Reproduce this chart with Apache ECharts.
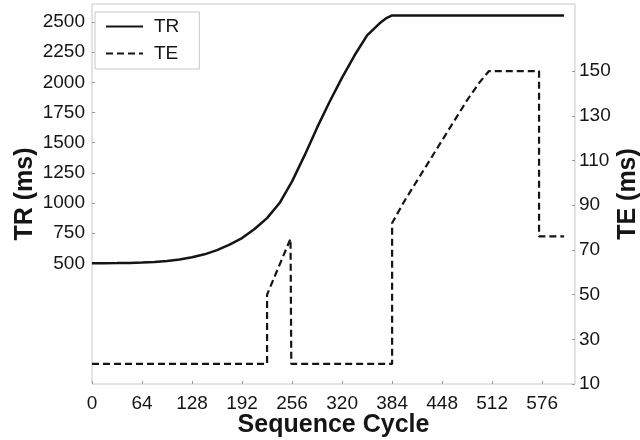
<!DOCTYPE html>
<html>
<head>
<meta charset="utf-8">
<script src="https://cdn.jsdelivr.net/npm/echarts@6/dist/echarts.min.js"></script>
<style>
html, body { margin: 0; padding: 0; background: #fff; }
#chart { width: 640px; height: 440px; }
</style>
</head>
<body>
<div id="chart"></div>
<script>
// 序列周期 (x) 与 TR / TE 取值
const trCycles = [0, 16, 32, 48, 64, 80, 96, 112, 128, 144, 160, 176, 192, 208, 224, 240, 256, 272, 288, 304, 320, 336, 352, 368, 376, 384, 604];
const trValues = [500, 501, 502, 504, 507, 512, 520, 532, 550, 575, 610, 655, 710, 785, 875, 1000, 1180, 1395, 1625, 1840, 2040, 2225, 2390, 2490, 2530, 2555, 2555];

const teCycles = [0, 224, 224, 254, 255, 384, 384, 400, 416, 448, 480, 496, 508, 572, 572, 604];
const teValues = [19, 19, 50, 75, 19, 19, 82, 92, 101, 119, 137, 145, 150, 150, 76, 76];

// 刻度
const xTicks = [0, 64, 128, 192, 256, 320, 384, 448, 512, 576];
const trTicks = [500, 750, 1000, 1250, 1500, 1750, 2000, 2250, 2500];
const teTicks = [10, 30, 50, 70, 90, 110, 130, 150];

const pairs = (xs, ys) => xs.map((x, i) => [x, ys[i]]);

const font = 'Liberation Sans, Arial, sans-serif';
const ink = '#151515';
const frame = '#c8c8c8';

let chart = echarts.init(document.getElementById('chart'));
chart.setOption({
    backgroundColor: '#fff',
    animation: false,
    grid: {
        left: 92, right: 65, top: 4, bottom: 56,
        outerBoundsMode: 'none',
        containLabel: false,
        show: true, borderColor: frame, borderWidth: 1
    },
    legend: {
        left: 95, top: 12,
        orient: 'vertical',
        itemWidth: 37, itemHeight: 14, itemGap: 8,
        padding: [5, 20, 6, 10],
        borderColor: frame, borderWidth: 1,
        itemStyle: { color: 'transparent', borderWidth: 0, opacity: 0 },
        textStyle: { fontFamily: font, fontSize: 19, color: ink, padding: [0, 0, 0, 6] },
        data: ['TR', 'TE']
    },
    xAxis: {
        type: 'value',
        min: 0, max: 618, interval: 64,
        name: 'Sequence Cycle',
        nameLocation: 'middle', nameGap: 29, nameMoveOverlap: false,
        nameTextStyle: { fontFamily: font, fontSize: 25, fontWeight: 'bold', color: ink },
        axisLine: { show: false, onZero: false },
        axisTick: { show: true, inside: true, length: 3, lineStyle: { color: '#999' }, customValues: xTicks },
        axisLabel: { fontFamily: font, fontSize: 19, color: ink, margin: 10, customValues: xTicks },
        splitLine: { show: false }
    },
    yAxis: [
        {
            type: 'value',
            position: 'left',
            min: -500, max: 2650, interval: 250,
            name: 'TR (ms)',
            nameLocation: 'middle', nameGap: 54, nameRotate: 90, nameMoveOverlap: false,
            nameTextStyle: { fontFamily: font, fontSize: 25, fontWeight: 'bold', color: ink },
            axisLine: { show: false, onZero: false },
            axisTick: { show: true, inside: true, length: 3, lineStyle: { color: '#999' }, customValues: trTicks },
            axisLabel: {
                fontFamily: font, fontSize: 19, color: ink, margin: 7,
                customValues: trTicks,
                formatter: v => (v >= 500 && v <= 2500 ? String(v) : '')
            },
            splitLine: { show: false }
        },
        {
            type: 'value',
            position: 'right',
            min: 10, max: 180, interval: 20,
            name: 'TE (ms)',
            nameLocation: 'middle', nameGap: 41, nameRotate: 90, nameMoveOverlap: false,
            nameTextStyle: { fontFamily: font, fontSize: 25, fontWeight: 'bold', color: ink },
            axisLine: { show: false, onZero: false },
            axisTick: { show: true, inside: true, length: 3, lineStyle: { color: '#999' }, customValues: teTicks },
            axisLabel: {
                fontFamily: font, fontSize: 19, color: ink, margin: 4,
                customValues: teTicks,
                formatter: v => (v <= 150 ? String(v) : '')
            },
            splitLine: { show: false }
        }
    ],
    series: [
        {
            name: 'TR',
            type: 'line',
            yAxisIndex: 0,
            data: pairs(trCycles, trValues),
            symbol: 'none',
            color: ink,
            lineStyle: { color: ink, width: 2.5 }
        },
        {
            name: 'TE',
            type: 'line',
            yAxisIndex: 1,
            data: pairs(teCycles, teValues),
            symbol: 'none',
            color: ink,
            lineStyle: { color: ink, width: 2.2, type: [7, 4] }
        }
    ]
});
</script>
</body>
</html>
